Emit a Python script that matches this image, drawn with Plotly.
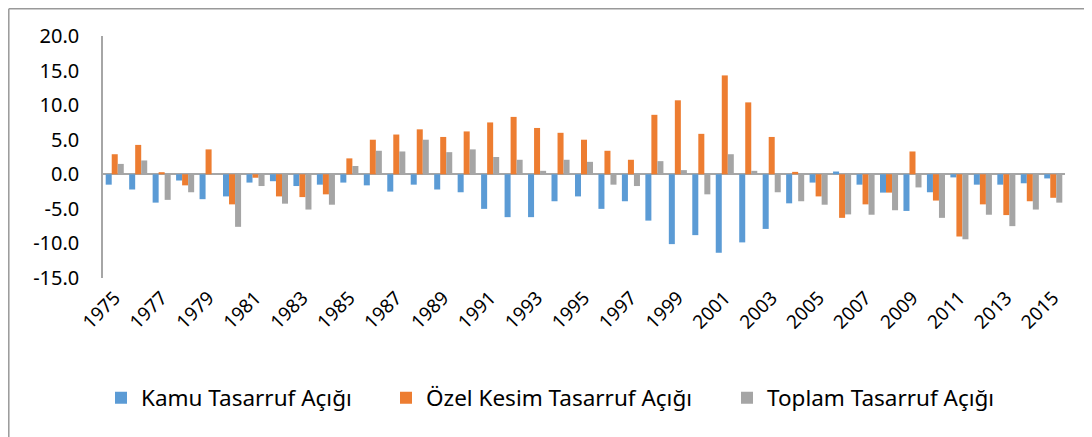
import plotly.graph_objects as go

years = list(range(1975, 2016))

kamu = [-1.5, -2.2, -4.1, -0.9, -3.6, -3.2, -1.2, -1.0, -1.7, -1.5,
        -1.2, -1.6, -2.5, -1.5, -2.2, -2.6, -5.0, -6.2, -6.2, -3.9,
        -3.2, -5.0, -3.9, -6.7, -10.1, -8.8, -11.35, -9.85, -7.9, -4.2,
        -1.2, 0.4, -1.5, -2.65, -5.3, -2.6, -0.45, -1.5, -1.5, -1.3, -0.6]

ozel = [2.9, 4.25, 0.3, -1.6, 3.6, -4.35, -0.5, -3.2, -3.3, -2.9,
        2.3, 5.0, 5.75, 6.5, 5.4, 6.2, 7.5, 8.3, 6.7, 6.0,
        5.0, 3.4, 2.1, 8.6, 10.7, 5.85, 14.3, 10.4, 5.4, 0.35,
        -3.2, -6.3, -4.35, -2.65, 3.3, -3.8, -9.0, -4.35, -5.9, -3.9, -3.4]

toplam = [1.5, 2.0, -3.7, -2.6, 0.0, -7.6, -1.7, -4.25, -5.1, -4.4,
          1.2, 3.4, 3.3, 5.0, 3.2, 3.6, 2.5, 2.1, 0.5, 2.1,
          1.8, -1.5, -1.7, 1.9, 0.6, -2.9, 2.9, 0.5, -2.6, -3.9,
          -4.4, -5.8, -5.85, -5.2, -1.9, -6.3, -9.4, -5.85, -7.5, -5.1, -4.1]

series_names = ["Kamu Tasarruf Açığı", "Özel Kesim Tasarruf Açığı", "Toplam Tasarruf Açığı"]
colors = ["#5B9BD5", "#ED7D31", "#A5A5A5"]

y_ticks = [-15, -10, -5, 0, 5, 10, 15, 20]
x_ticks = list(range(1975, 2016, 2))

FONT = "Noto Sans"
OFF = 8  # browser body margin
W, H = 1092 - OFF, 437 - OFF
# plot area in page pixels
PL, PR, PT, PB = 103, 1065, 36, 278
PW, PH = PR - PL, PB - PT


def px(x):
    return (x - PL) / PW


def py(y):
    return (PB - y) / PH


legend_ids = ["legend", "legend2", "legend3"]
legend_x = [101, 386, 727]
legend_y = 398

fig = go.Figure()
for name, vals, col, lid in zip(series_names, [kamu, ozel, toplam], colors, legend_ids):
    fig.add_trace(go.Bar(x=years, y=vals, name=name, legend=lid,
                         marker=dict(color=col, line=dict(width=0))))

leg_common = dict(orientation="h", yanchor="middle", xanchor="left",
                  font=dict(family=FONT, size=22.5, color="#000000"),
                  itemwidth=30, bgcolor="rgba(0,0,0,0)")

B = OFF + 0.8  # border position on page (just inside the figure)

fig.update_layout(
    width=W, height=H,
    margin=dict(l=PL - OFF, r=W - (PR - OFF), t=PT - OFF, b=H - (PB - OFF), autoexpand=False),
    plot_bgcolor="white", paper_bgcolor="white",
    barmode="group", bargap=0.23, bargroupgap=0,
    font=dict(family=FONT, size=19, color="#000000"),
    showlegend=True,
    legend=dict(x=px(legend_x[0]), y=py(legend_y), **leg_common),
    legend2=dict(x=px(legend_x[1]), y=py(legend_y), **leg_common),
    legend3=dict(x=px(legend_x[2]), y=py(legend_y), **leg_common),
    xaxis=dict(range=[1974.5, 2015.5], tickmode="array", tickvals=x_ticks,
               ticktext=[str(v) for v in x_ticks], tickangle=-45,
               showgrid=False, zeroline=False, showline=False, ticks="",
               ticklabelstandoff=4, tickfont=dict(family=FONT, size=19)),
    yaxis=dict(range=[-15, 20], tickmode="array", tickvals=y_ticks,
               ticktext=[f"{v:.1f}" for v in y_ticks],
               showgrid=False, zeroline=True, zerolinecolor="#A6A6A6", zerolinewidth=2,
               showline=True, linecolor="#A6A6A6", linewidth=1.5, ticks="",
               ticklabelstandoff=18, tickfont=dict(family=FONT, size=20)),
    shapes=[
        dict(type="line", xref="paper", yref="paper", x0=px(B), x1=px(1092),
             y0=py(B), y1=py(B), line=dict(color="#999999", width=1.5)),
        dict(type="line", xref="paper", yref="paper", x0=px(B), x1=px(B),
             y0=py(B), y1=py(437), line=dict(color="#999999", width=1.5)),
    ],
)

fig.write_html("out.html")
